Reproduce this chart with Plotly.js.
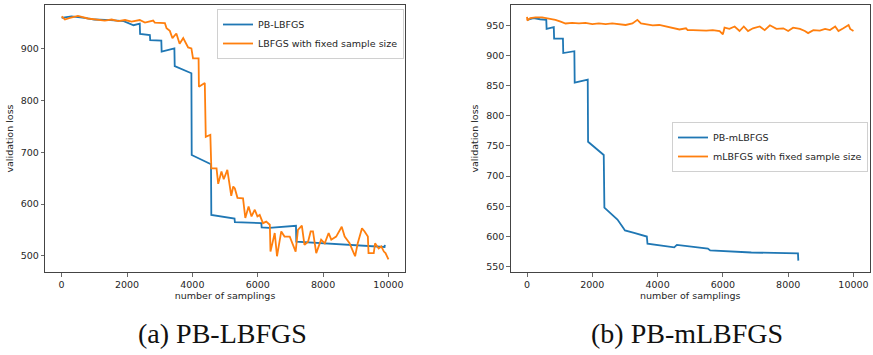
<!DOCTYPE html>
<html>
<head>
<meta charset="utf-8">
<script src="https://cdn.plot.ly/plotly-3.0.1.min.js"></script>
<style>html,body{margin:0;padding:0;background:#fff;}#chart{width:873px;height:355px;}</style>
</head>
<body>
<div id="chart"></div>
<script>
// (a) PB-LBFGS panel
const aBlueX = [0, 300, 700, 1000, 1500, 1900, 2200, 2390, 2400, 2700, 2710, 3050, 3060, 3450, 3460, 3970, 3980, 4570, 4580, 5290, 5300, 6110, 6120, 6350, 7170, 7180, 9880, 9890];
const aBlueY = [960, 963, 960, 957, 956, 954, 946, 949, 929, 927, 917, 916, 895, 901, 867, 853, 695, 677, 579, 572, 565, 563, 555, 554, 558, 527, 517, 521];
const aOrangeX = [0, 100, 250, 500, 800, 1120, 1320, 1530, 1730, 1940, 2140, 2390, 2550, 2800, 2850, 3160, 3210, 3310, 3390, 3510, 3610, 3720, 3870, 3970, 4020, 4190, 4200, 4380, 4410, 4550, 4580, 4740, 4790, 4890, 4960, 5070, 5190, 5250, 5300, 5380, 5550, 5620, 5720, 5810, 5910, 5990, 6060, 6160, 6260, 6370, 6390, 6520, 6590, 6720, 6820, 6980, 7160, 7230, 7350, 7430, 7540, 7620, 7690, 7790, 7940, 8050, 8170, 8250, 8400, 8570, 8660, 8810, 8980, 9060, 9190, 9270, 9370, 9390, 9550, 9590, 9700, 9780, 9860, 9910, 10000];
const aOrangeY = [963, 957, 960, 964, 959, 957, 955, 957, 954, 956, 953, 956, 951, 955, 951, 950, 940, 935, 921, 930, 910, 921, 903, 901, 882, 882, 827, 834, 730, 734, 669, 669, 639, 663, 648, 666, 616, 634, 630, 612, 611, 573, 595, 576, 589, 576, 579, 563, 566, 560, 508, 544, 499, 547, 537, 537, 508, 550, 558, 521, 527, 547, 547, 505, 531, 524, 544, 531, 537, 556, 537, 524, 499, 524, 553, 547, 537, 505, 505, 524, 514, 518, 508, 505, 493];

// (b) PB-mLBFGS panel
const bBlueX = [0, 200, 400, 590, 600, 820, 830, 1100, 1110, 1450, 1460, 1860, 1870, 2150, 2350, 2370, 2560, 2770, 2950, 3000, 3280, 3670, 3690, 4510, 4590, 5540, 5610, 6870, 8300, 8310];
const bBlueY = [959, 962, 960, 959, 944, 947, 928, 928, 904, 907, 855, 860, 757, 744, 735, 648, 639, 628, 614, 610, 606, 600, 588, 582, 586, 580, 577, 573.5, 572, 560];
const bOrangeX = [0, 10, 100, 260, 460, 670, 870, 1030, 1180, 1380, 1590, 1790, 2000, 2200, 2410, 2610, 2820, 3020, 3230, 3380, 3490, 3640, 3850, 4050, 4260, 4460, 4670, 4870, 4920, 5080, 5280, 5490, 5690, 5900, 6000, 6050, 6200, 6360, 6510, 6640, 6770, 6920, 7130, 7280, 7440, 7640, 7850, 8000, 8150, 8360, 8510, 8610, 8770, 8970, 9130, 9280, 9440, 9540, 9690, 9850, 9900, 10000];
const bOrangeY = [964, 958, 962, 963, 963, 961, 959, 956, 953, 954, 953, 954, 952, 953, 952, 953, 952, 950.5, 953, 959, 953, 952, 950, 950.5, 948, 946, 943, 945, 942, 942, 941, 941, 942, 940.5, 935, 946, 944, 948, 940.5, 948, 940.5, 945, 948, 942, 950, 944, 945, 940.5, 946, 944, 940.5, 937, 942, 941, 944, 942, 948, 940.5, 945, 950.5, 944, 940.5];

const xTicks = [0, 2000, 4000, 6000, 8000, 10000];
const xTickText = ['0', '2000', '4000', '6000', '8000', '10000'];
const aYTicks = [500, 600, 700, 800, 900];
const bYTicks = [550, 600, 650, 700, 750, 800, 850, 900, 950];

const seriesNames = ['PB-LBFGS', 'LBFGS with fixed sample size', 'PB-mLBFGS', 'mLBFGS with fixed sample size'];
const captions = ['(a) PB-LBFGS', '(b) PB-mLBFGS'];
const xTitle = 'number of samplings';
const yTitle = 'validation loss';

const BLUE = '#1f77b4', ORANGE = '#ff7f0e';
const W = 873, H = 355;
const tickFont = {family: 'DejaVu Sans', size: 9.5, color: '#262626'};

function axisBase(extra) {
  return Object.assign({
    showline: true, mirror: true, linecolor: '#444', linewidth: 1,
    ticks: 'outside', ticklen: 3.5, tickwidth: 0.8, tickcolor: '#444',
    showgrid: false, zeroline: false, tickfont: tickFont, automargin: false,
    tickmode: 'array'
  }, extra);
}

const traces = [
  {x: aBlueX, y: aBlueY, name: seriesNames[0], type: 'scatter', mode: 'lines', line: {color: BLUE, width: 1.8}, xaxis: 'x', yaxis: 'y', legend: 'legend'},
  {x: aOrangeX, y: aOrangeY, name: seriesNames[1], type: 'scatter', mode: 'lines', line: {color: ORANGE, width: 1.8}, xaxis: 'x', yaxis: 'y', legend: 'legend'},
  {x: bBlueX, y: bBlueY, name: seriesNames[2], type: 'scatter', mode: 'lines', line: {color: BLUE, width: 1.8}, xaxis: 'x2', yaxis: 'y2', legend: 'legend2'},
  {x: bOrangeX, y: bOrangeY, name: seriesNames[3], type: 'scatter', mode: 'lines', line: {color: ORANGE, width: 1.8}, xaxis: 'x2', yaxis: 'y2', legend: 'legend2'}
];

const yDom = [1 - 272 / H, 1 - 5 / H];
const legendCommon = {
  font: {family: 'DejaVu Sans', size: 9.5, color: '#262626'},
  bgcolor: 'rgba(255,255,255,0.85)', bordercolor: '#d0d0d0', borderwidth: 1,
  xanchor: 'left', yanchor: 'top', itemwidth: 30, tracegroupgap: 0
};
const titleFont = {family: 'DejaVu Sans', size: 9.5, color: '#262626'};

const layout = {
  width: W, height: H,
  margin: {l: 0, r: 0, t: 0, b: 0},
  paper_bgcolor: '#fff', plot_bgcolor: '#fff',
  showlegend: true,
  xaxis: axisBase({domain: [45.3 / W, 404.8 / W], range: [-500, 10500], tickvals: xTicks, ticktext: xTickText, anchor: 'y',
    title: {text: xTitle, font: titleFont, standoff: 3}}),
  yaxis: axisBase({domain: yDom, range: [468.5, 985.1], tickvals: aYTicks, anchor: 'x',
    title: {text: yTitle, font: titleFont, standoff: 5}}),
  xaxis2: axisBase({domain: [510.7 / W, 869.8 / W], range: [-500, 10500], tickvals: xTicks, ticktext: xTickText, anchor: 'y2',
    title: {text: xTitle, font: titleFont, standoff: 3}}),
  yaxis2: axisBase({domain: yDom, range: [541.2, 983.6], tickvals: bYTicks, anchor: 'x2',
    title: {text: yTitle, font: titleFont, standoff: 5}}),
  legend: Object.assign({x: 217 / W, y: 1 - 9 / H}, legendCommon),
  legend2: Object.assign({x: 672 / W, y: 1 - 122 / H}, legendCommon),
  annotations: [
    {text: captions[0], xref: 'paper', yref: 'paper', x: 223 / W, y: 1 - 333 / H, xanchor: 'center', yanchor: 'middle', showarrow: false,
     font: {family: 'Liberation Serif', size: 28, color: '#111'}},
    {text: captions[1], xref: 'paper', yref: 'paper', x: 687 / W, y: 1 - 333 / H, xanchor: 'center', yanchor: 'middle', showarrow: false,
     font: {family: 'Liberation Serif', size: 28, color: '#111'}}
  ]
};

Plotly.newPlot('chart', traces, layout, {displayModeBar: false, staticPlot: true});
</script>
</body>
</html>
